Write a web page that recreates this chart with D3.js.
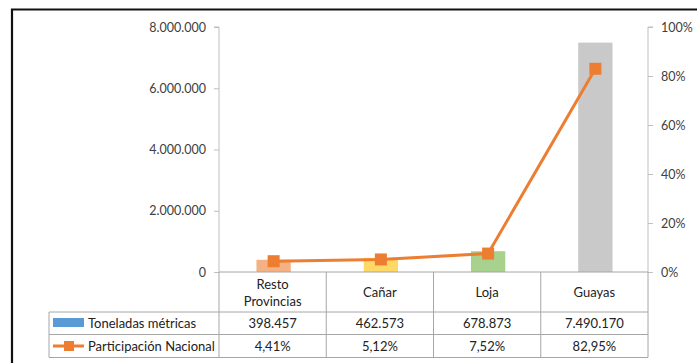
<!DOCTYPE html>
<html>
<head>
<meta charset="utf-8">
<script src="https://cdn.jsdelivr.net/npm/d3@7"></script>
<style>
  html, body { margin: 0; padding: 0; background: #fff; }
  svg { display: block; font-family: Lato, "Noto Sans", sans-serif; }
</style>
</head>
<body>
<svg id="chart" width="697" height="363"></svg>
<script>
// Production by province: tonnes and national share
const categories = ["Resto Provincias", "Cañar", "Loja", "Guayas"];
const categoryLines = [["Resto", "Provincias"], ["Cañar"], ["Loja"], ["Guayas"]];
const toneladas = [398457, 462573, 678873, 7490170];
const participacion = [0.0441, 0.0512, 0.0752, 0.8295];
const toneladasLabels = ["398.457", "462.573", "678.873", "7.490.170"];
const participacionLabels = ["4,41%", "5,12%", "7,52%", "82,95%"];
const barColors = ["#F4B183", "#FFD966", "#A9D18E", "#C9C9C9"];
const leftTicks = [0, 2000000, 4000000, 6000000, 8000000];
const rightTicks = [0, 0.2, 0.4, 0.6, 0.8, 1.0];
const seriesNames = ["Toneladas métricas", "Participación Nacional"];

const svg = d3.select("#chart");
const plotLeft = 219, plotRight = 648, plotTop = 27, plotBottom = 272;
const tableLeft = 49;
const rowY = [272, 312, 334.5, 357.5];
const gridColor = "#A6A6A6";
const textColor = "#404040";
const orange = "#ED7D31";

// Outer frame
svg.append("path")
  .attr("d", "M12,363 L12,9.5 L697,9.5")
  .attr("fill", "none").attr("stroke", "#111").attr("stroke-width", 2.2);

const x = d3.scaleBand().domain(categories).range([plotLeft, plotRight]).paddingInner(0).paddingOuter(0);
const yL = d3.scaleLinear().domain([0, 8000000]).range([plotBottom, plotTop]);
const yR = d3.scaleLinear().domain([0, 1]).range([plotBottom, plotTop]);

const fmtThousands = d3.formatLocale({ decimal: ",", thousands: ".", grouping: [3], currency: ["", ""] });
const fmtInt = fmtThousands.format(",d");
const fmtPct = fmtThousands.format(".0%");

// Bars
const barW = x.bandwidth() * 0.32;
svg.append("g").selectAll("rect")
  .data(categories)
  .join("rect")
  .attr("x", (d) => x(d) + x.bandwidth() / 2 - barW / 2 + 1)
  .attr("width", barW)
  .attr("y", (d, i) => yL(toneladas[i]))
  .attr("height", (d, i) => yL(0) - yL(toneladas[i]))
  .attr("fill", (d, i) => barColors[i]);

// Left axis
const axL = svg.append("g").attr("transform", `translate(${plotLeft},0)`)
  .call(d3.axisLeft(yL).tickValues(leftTicks).tickSize(5).tickPadding(8).tickFormat(fmtInt));
axL.select(".domain").attr("stroke", "#BFBFBF").attr("d", `M-5,${plotTop}H0V${plotBottom}`);
axL.selectAll(".tick line").attr("stroke", "#BFBFBF");
axL.selectAll(".tick text").attr("fill", textColor).style("font-size", "12.5px").style("font-family", "Lato, sans-serif");

// Right axis
const axR = svg.append("g").attr("transform", `translate(${plotRight},0)`)
  .call(d3.axisRight(yR).tickValues(rightTicks).tickSize(5).tickPadding(8).tickFormat(fmtPct));
axR.select(".domain").attr("stroke", "#BFBFBF").attr("d", `M5,${plotTop}H0V${plotBottom}`);
axR.selectAll(".tick line").attr("stroke", "#BFBFBF");
axR.selectAll(".tick text").attr("fill", textColor).style("font-size", "12.5px").style("font-family", "Lato, sans-serif");

// Line series
const cx = (i) => x(categories[i]) + x.bandwidth() / 2 + 1;
const line = d3.line().x((d, i) => cx(i)).y((d) => yR(d));
svg.append("path").datum(participacion)
  .attr("d", line).attr("fill", "none").attr("stroke", orange).attr("stroke-width", 3);
const mk = 12;
svg.append("g").selectAll("rect").data(participacion).join("rect")
  .attr("x", (d, i) => cx(i) - mk / 2).attr("y", (d) => yR(d) - mk / 2)
  .attr("width", mk).attr("height", mk).attr("fill", orange);

// Data table
const tbl = svg.append("g");
const hl = (x1, x2, y) => tbl.append("line").attr("x1", x1).attr("x2", x2).attr("y1", y).attr("y2", y)
  .attr("stroke", gridColor).attr("stroke-width", 1);
const vl = (xx, y1, y2) => tbl.append("line").attr("x1", xx).attr("x2", xx).attr("y1", y1).attr("y2", y2)
  .attr("stroke", gridColor).attr("stroke-width", 1);
hl(plotLeft, plotRight, rowY[0]);
hl(tableLeft, plotRight, rowY[1]);
hl(tableLeft, plotRight, rowY[2]);
hl(tableLeft, plotRight, rowY[3]);
vl(tableLeft, rowY[1], rowY[3]);
categories.forEach((c) => vl(x(c), rowY[0], rowY[3]));
vl(plotRight, rowY[0], rowY[3]);

const cellText = (xx, y, t, anchor) => tbl.append("text")
  .attr("x", xx).attr("y", y).attr("text-anchor", anchor || "middle")
  .attr("dominant-baseline", "central")
  .attr("fill", "#222").style("font-size", "13px").text(t);

categories.forEach((c, i) => {
  const lines = categoryLines[i];
  const mid = x(c) + x.bandwidth() / 2;
  if (lines.length === 2) {
    cellText(mid, 284, lines[0]);
    cellText(mid, 301, lines[1]);
  } else {
    cellText(mid, 292, lines[0]);
  }
  cellText(mid, (rowY[1] + rowY[2]) / 2, toneladasLabels[i]);
  cellText(mid, (rowY[2] + rowY[3]) / 2, participacionLabels[i]);
});

// Legend keys in the table rows
tbl.append("rect").attr("x", 53).attr("y", 318).attr("width", 31).attr("height", 9).attr("fill", "#5B9BD5");
cellText(88, (rowY[1] + rowY[2]) / 2, seriesNames[0], "start");
tbl.append("line").attr("x1", 53).attr("x2", 84).attr("y1", 346).attr("y2", 346)
  .attr("stroke", orange).attr("stroke-width", 3);
tbl.append("rect").attr("x", 64).attr("y", 341).attr("width", 10).attr("height", 10).attr("fill", orange);
cellText(88, (rowY[2] + rowY[3]) / 2, seriesNames[1], "start");
</script>
</body>
</html>
